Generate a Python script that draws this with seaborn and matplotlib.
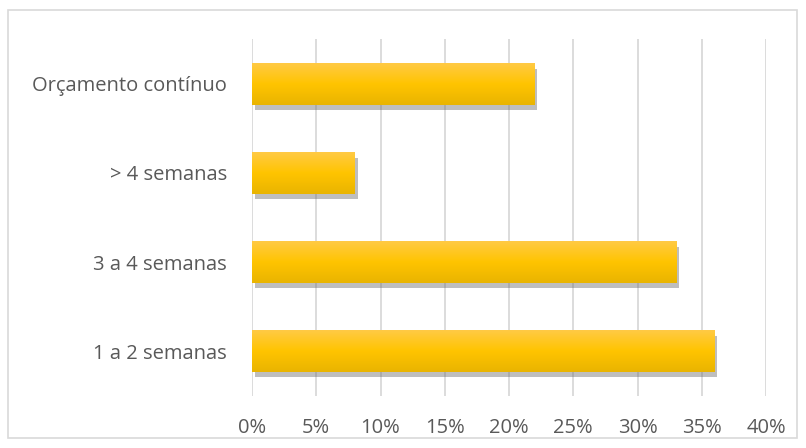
"""Horizontal bar chart: planning period shares."""

import matplotlib

matplotlib.use("Agg")
import matplotlib.pyplot as plt
import matplotlib.patheffects as pe
import numpy as np
import pandas as pd
import seaborn as sns
from matplotlib.colors import LinearSegmentedColormap
from matplotlib.patches import Rectangle
from matplotlib.ticker import FuncFormatter

CATEGORIES = ["Orçamento contínuo", "> 4 semanas", "3 a 4 semanas", "1 a 2 semanas"]
SHARES = [22, 8, 33, 36]
X_TICKS = [0, 5, 10, 15, 20, 25, 30, 35, 40]

TEXT = "#595959"
GRID = "#d9d9d9"
GOLD = LinearSegmentedColormap.from_list(
    "gold", ["#ffca45", "#ffc400", "#e9b400"]
)


def main() -> None:
    sns.set_theme(style="white")
    plt.rcParams["font.family"] = ["Open Sans", "DejaVu Sans"]

    df = pd.DataFrame({"category": CATEGORIES, "share": SHARES})

    fig = plt.figure(figsize=(8.06, 4.48), dpi=100)
    ax = fig.add_axes([252 / 806, 1 - 395.5 / 448, 514 / 806, 356 / 448])
    sns.barplot(data=df, x="share", y="category", ax=ax, width=0.47,
                color="#ffc000", edgecolor="none", zorder=3)

    gradient = np.linspace(0, 1, 256).reshape(-1, 1)
    for patch in ax.patches:
        x0, y0 = patch.get_x(), patch.get_y()
        w, h = patch.get_width(), patch.get_height()
        patch.set_path_effects([
            pe.SimplePatchShadow(offset=(2, -4), shadow_rgbFace="#6f6f6f", alpha=0.45),
            pe.Normal(),
        ])
        img = ax.imshow(gradient, cmap=GOLD, aspect="auto", origin="upper",
                        extent=(x0, x0 + w, y0 + h, y0), zorder=4)
        clip = Rectangle((x0, y0), w, h, transform=ax.transData)
        img.set_clip_path(clip)

    ax.set_xlim(0, 40)
    ax.set_ylim(3.5, -0.5)
    ax.set_xticks(X_TICKS)
    ax.xaxis.set_major_formatter(FuncFormatter(lambda v, _: f"{v:.0f}%"))
    ax.grid(axis="x", color=GRID, linewidth=1.3, zorder=0)
    for spine in ax.spines.values():
        spine.set_visible(False)
    ax.tick_params(axis="both", length=0, labelsize=14.5, labelcolor=TEXT)
    ax.tick_params(axis="x", pad=16)
    ax.tick_params(axis="y", pad=18)
    ax.set_xlabel("")
    ax.set_ylabel("")

    fig.patches.append(Rectangle((8 / 806, 1 - 438 / 448), 789 / 806, 428 / 448,
                                 transform=fig.transFigure, fill=False,
                                 edgecolor="#d9d9d9", linewidth=1.2))
    fig.savefig("out.png", dpi=100)
    plt.close(fig)


if __name__ == "__main__":
    main()
